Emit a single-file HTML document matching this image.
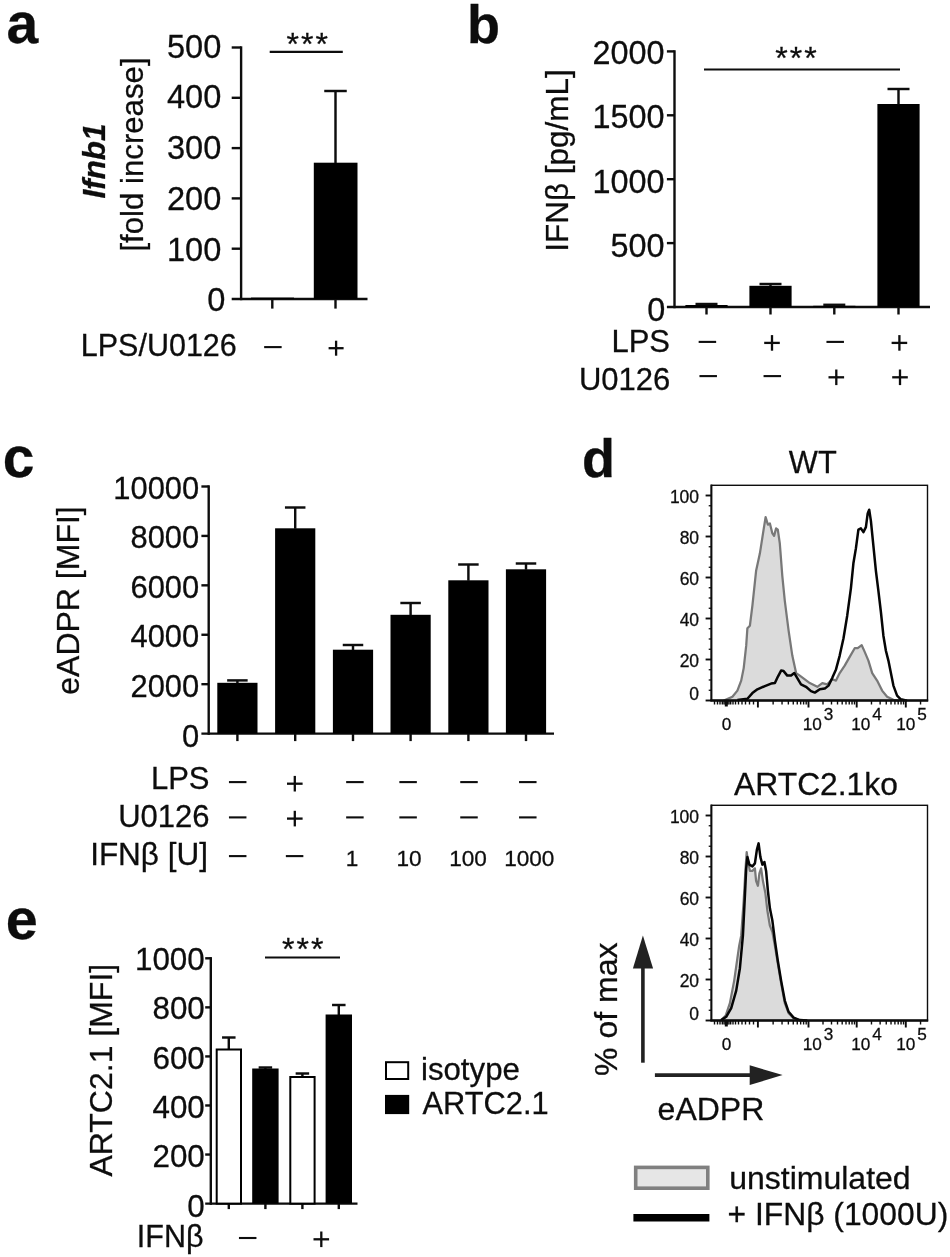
<!DOCTYPE html>
<html lang="en">
<head>
<meta charset="utf-8">
<title>Figure</title>
<style>
html,body{margin:0;padding:0;background:#fff;}
body{width:950px;height:1257px;overflow:hidden;}
svg{display:block;will-change:transform;filter:grayscale(1);}
svg text{font-family:"Liberation Sans",sans-serif;fill:#0d0d0d;stroke:#0d0d0d;stroke-width:0.28px;}
</style>
</head>
<body>
<svg width="950" height="1257" viewBox="0 0 950 1257">
<rect x="0" y="0" width="950" height="1257" fill="#ffffff"/>
<!-- panel a -->
<text x="6.5" y="42.6" font-size="57" font-weight="bold" fill="#222" stroke="#222">a</text>
<line x1="241.10" y1="46.30" x2="241.10" y2="300.20" stroke="#0d0d0d" stroke-width="2.4"/>
<line x1="231.70" y1="299.00" x2="367.50" y2="299.00" stroke="#0d0d0d" stroke-width="2.4"/>
<line x1="231.70" y1="47.50" x2="241.10" y2="47.50" stroke="#0d0d0d" stroke-width="2.4"/>
<text x="221.3" y="57.8" font-size="32.6" text-anchor="end">500</text>
<line x1="231.70" y1="97.80" x2="241.10" y2="97.80" stroke="#0d0d0d" stroke-width="2.4"/>
<text x="221.3" y="108.48" font-size="32.6" text-anchor="end">400</text>
<line x1="231.70" y1="148.10" x2="241.10" y2="148.10" stroke="#0d0d0d" stroke-width="2.4"/>
<text x="221.3" y="159.16" font-size="32.6" text-anchor="end">300</text>
<line x1="231.70" y1="198.40" x2="241.10" y2="198.40" stroke="#0d0d0d" stroke-width="2.4"/>
<text x="221.3" y="209.84" font-size="32.6" text-anchor="end">200</text>
<line x1="231.70" y1="248.70" x2="241.10" y2="248.70" stroke="#0d0d0d" stroke-width="2.4"/>
<text x="221.3" y="260.52" font-size="32.6" text-anchor="end">100</text>
<text x="225.3" y="311.2" font-size="32.6" text-anchor="end">0</text>
<line x1="272.30" y1="299.00" x2="272.30" y2="308.60" stroke="#0d0d0d" stroke-width="2.4"/>
<line x1="335.50" y1="299.00" x2="335.50" y2="308.60" stroke="#0d0d0d" stroke-width="2.4"/>
<rect x="313.80" y="162.70" width="43.70" height="136.30" fill="#000"/>
<rect x="251.00" y="297.60" width="43.00" height="1.40" fill="#000"/>
<line x1="335.50" y1="91.00" x2="335.50" y2="163.00" stroke="#0d0d0d" stroke-width="2.45"/>
<line x1="324.25" y1="91.00" x2="346.75" y2="91.00" stroke="#0d0d0d" stroke-width="2.45"/>
<line x1="269.70" y1="51.80" x2="342.80" y2="51.80" stroke="#0d0d0d" stroke-width="2.2"/>
<text x="308.2" y="55.3" font-size="32" text-anchor="middle" letter-spacing="2">***</text>
<text x="236.8" y="355.8" font-size="30.5" text-anchor="end">LPS/U0126</text>
<line x1="264.15" y1="347.10" x2="281.65" y2="347.10" stroke="#0d0d0d" stroke-width="2.1"/>
<line x1="328.60" y1="348.20" x2="343.60" y2="348.20" stroke="#0d0d0d" stroke-width="2.3"/>
<line x1="336.10" y1="340.70" x2="336.10" y2="355.70" stroke="#0d0d0d" stroke-width="2.3"/>
<text x="104.6" y="161" font-size="31.4" text-anchor="middle" font-weight="bold" font-style="italic" transform="rotate(-90 104.6 161)">Ifnb1</text>
<text x="142.5" y="154.5" font-size="31.2" text-anchor="middle" transform="rotate(-90 142.5 154.5)">[fold increase]</text>
<!-- panel b -->
<text x="467" y="42.5" font-size="54" font-weight="bold" fill="#222" stroke="#222">b</text>
<line x1="674.50" y1="50.20" x2="674.50" y2="308.20" stroke="#0d0d0d" stroke-width="2.4"/>
<line x1="666.90" y1="307.00" x2="930.00" y2="307.00" stroke="#0d0d0d" stroke-width="2.4"/>
<line x1="666.90" y1="51.40" x2="674.50" y2="51.40" stroke="#0d0d0d" stroke-width="2.4"/>
<text x="664.5" y="63.8" font-size="32.4" text-anchor="end">2000</text>
<line x1="666.90" y1="115.30" x2="674.50" y2="115.30" stroke="#0d0d0d" stroke-width="2.4"/>
<text x="664.5" y="128.15" font-size="32.4" text-anchor="end">1500</text>
<line x1="666.90" y1="179.20" x2="674.50" y2="179.20" stroke="#0d0d0d" stroke-width="2.4"/>
<text x="664.5" y="192.5" font-size="32.4" text-anchor="end">1000</text>
<line x1="666.90" y1="243.10" x2="674.50" y2="243.10" stroke="#0d0d0d" stroke-width="2.4"/>
<text x="664.5" y="256.85" font-size="32.4" text-anchor="end">500</text>
<text x="665.2" y="321.2" font-size="32.4" text-anchor="end">0</text>
<line x1="706.50" y1="307.00" x2="706.50" y2="314.50" stroke="#0d0d0d" stroke-width="2.4"/>
<line x1="770.50" y1="307.00" x2="770.50" y2="314.50" stroke="#0d0d0d" stroke-width="2.4"/>
<line x1="834.30" y1="307.00" x2="834.30" y2="314.50" stroke="#0d0d0d" stroke-width="2.4"/>
<line x1="898.50" y1="307.00" x2="898.50" y2="314.50" stroke="#0d0d0d" stroke-width="2.4"/>
<rect x="685.40" y="305.00" width="42.20" height="2.00" fill="#000"/>
<line x1="706.50" y1="304.00" x2="706.50" y2="305.50" stroke="#0d0d0d" stroke-width="2.45"/>
<line x1="695.50" y1="304.00" x2="717.50" y2="304.00" stroke="#0d0d0d" stroke-width="2.45"/>
<rect x="749.40" y="285.80" width="42.20" height="21.20" fill="#000"/>
<line x1="770.50" y1="284.00" x2="770.50" y2="286.30" stroke="#0d0d0d" stroke-width="2.45"/>
<line x1="759.50" y1="284.00" x2="781.50" y2="284.00" stroke="#0d0d0d" stroke-width="2.45"/>
<rect x="813.20" y="305.80" width="42.20" height="1.20" fill="#000"/>
<line x1="834.30" y1="304.80" x2="834.30" y2="306.30" stroke="#0d0d0d" stroke-width="2.45"/>
<line x1="823.30" y1="304.80" x2="845.30" y2="304.80" stroke="#0d0d0d" stroke-width="2.45"/>
<rect x="877.40" y="104.00" width="42.20" height="203.00" fill="#000"/>
<line x1="898.50" y1="89.00" x2="898.50" y2="104.50" stroke="#0d0d0d" stroke-width="2.45"/>
<line x1="887.50" y1="89.00" x2="909.50" y2="89.00" stroke="#0d0d0d" stroke-width="2.45"/>
<line x1="704.00" y1="69.50" x2="900.00" y2="69.50" stroke="#0d0d0d" stroke-width="2.2"/>
<text x="797.0" y="68.7" font-size="32" text-anchor="middle" letter-spacing="2">***</text>
<text x="670" y="352.2" font-size="31" text-anchor="end">LPS</text>
<text x="670.3" y="389.5" font-size="31" text-anchor="end">U0126</text>
<line x1="698.65" y1="341.90" x2="716.15" y2="341.90" stroke="#0d0d0d" stroke-width="2.1"/>
<line x1="764.20" y1="342.90" x2="779.80" y2="342.90" stroke="#0d0d0d" stroke-width="2.3"/>
<line x1="772.00" y1="335.10" x2="772.00" y2="350.70" stroke="#0d0d0d" stroke-width="2.3"/>
<line x1="826.45" y1="341.90" x2="843.95" y2="341.90" stroke="#0d0d0d" stroke-width="2.1"/>
<line x1="891.60" y1="342.90" x2="907.20" y2="342.90" stroke="#0d0d0d" stroke-width="2.3"/>
<line x1="899.40" y1="335.10" x2="899.40" y2="350.70" stroke="#0d0d0d" stroke-width="2.3"/>
<line x1="699.45" y1="376.10" x2="716.95" y2="376.10" stroke="#0d0d0d" stroke-width="2.1"/>
<line x1="763.55" y1="376.10" x2="781.05" y2="376.10" stroke="#0d0d0d" stroke-width="2.1"/>
<line x1="828.50" y1="377.30" x2="844.10" y2="377.30" stroke="#0d0d0d" stroke-width="2.3"/>
<line x1="836.30" y1="369.50" x2="836.30" y2="385.10" stroke="#0d0d0d" stroke-width="2.3"/>
<line x1="892.20" y1="377.30" x2="907.80" y2="377.30" stroke="#0d0d0d" stroke-width="2.3"/>
<line x1="900.00" y1="369.50" x2="900.00" y2="385.10" stroke="#0d0d0d" stroke-width="2.3"/>
<text x="568" y="160.5" font-size="31.5" text-anchor="middle" transform="rotate(-90 568 160.5)">IFNβ [pg/mL]</text>
<!-- panel c -->
<text x="2.8" y="477" font-size="57" font-weight="bold" fill="#222" stroke="#222">c</text>
<line x1="208.70" y1="485.30" x2="208.70" y2="734.80" stroke="#0d0d0d" stroke-width="2.4"/>
<line x1="201.40" y1="733.60" x2="554.00" y2="733.60" stroke="#0d0d0d" stroke-width="2.4"/>
<line x1="201.40" y1="486.50" x2="208.70" y2="486.50" stroke="#0d0d0d" stroke-width="2.4"/>
<text x="199.2" y="498.8" font-size="30.9" text-anchor="end">10000</text>
<line x1="201.40" y1="535.92" x2="208.70" y2="535.92" stroke="#0d0d0d" stroke-width="2.4"/>
<text x="199.2" y="548.34" font-size="30.9" text-anchor="end">8000</text>
<line x1="201.40" y1="585.34" x2="208.70" y2="585.34" stroke="#0d0d0d" stroke-width="2.4"/>
<text x="199.2" y="597.88" font-size="30.9" text-anchor="end">6000</text>
<line x1="201.40" y1="634.76" x2="208.70" y2="634.76" stroke="#0d0d0d" stroke-width="2.4"/>
<text x="199.2" y="647.42" font-size="30.9" text-anchor="end">4000</text>
<line x1="201.40" y1="684.18" x2="208.70" y2="684.18" stroke="#0d0d0d" stroke-width="2.4"/>
<text x="199.2" y="696.96" font-size="30.9" text-anchor="end">2000</text>
<text x="199.2" y="746.5" font-size="30.9" text-anchor="end">0</text>
<line x1="237.40" y1="733.60" x2="237.40" y2="741.10" stroke="#0d0d0d" stroke-width="2.4"/>
<line x1="295.20" y1="733.60" x2="295.20" y2="741.10" stroke="#0d0d0d" stroke-width="2.4"/>
<line x1="353.00" y1="733.60" x2="353.00" y2="741.10" stroke="#0d0d0d" stroke-width="2.4"/>
<line x1="410.60" y1="733.60" x2="410.60" y2="741.10" stroke="#0d0d0d" stroke-width="2.4"/>
<line x1="468.40" y1="733.60" x2="468.40" y2="741.10" stroke="#0d0d0d" stroke-width="2.4"/>
<line x1="526.00" y1="733.60" x2="526.00" y2="741.10" stroke="#0d0d0d" stroke-width="2.4"/>
<rect x="217.30" y="682.80" width="40.20" height="50.80" fill="#000"/>
<line x1="237.40" y1="680.40" x2="237.40" y2="683.30" stroke="#0d0d0d" stroke-width="2.45"/>
<line x1="227.15" y1="680.40" x2="247.65" y2="680.40" stroke="#0d0d0d" stroke-width="2.45"/>
<rect x="275.10" y="528.30" width="40.20" height="205.30" fill="#000"/>
<line x1="295.20" y1="507.50" x2="295.20" y2="528.80" stroke="#0d0d0d" stroke-width="2.45"/>
<line x1="284.95" y1="507.50" x2="305.45" y2="507.50" stroke="#0d0d0d" stroke-width="2.45"/>
<rect x="332.90" y="649.70" width="40.20" height="83.90" fill="#000"/>
<line x1="353.00" y1="645.00" x2="353.00" y2="650.20" stroke="#0d0d0d" stroke-width="2.45"/>
<line x1="342.75" y1="645.00" x2="363.25" y2="645.00" stroke="#0d0d0d" stroke-width="2.45"/>
<rect x="390.50" y="614.80" width="40.20" height="118.80" fill="#000"/>
<line x1="410.60" y1="603.00" x2="410.60" y2="615.30" stroke="#0d0d0d" stroke-width="2.45"/>
<line x1="400.35" y1="603.00" x2="420.85" y2="603.00" stroke="#0d0d0d" stroke-width="2.45"/>
<rect x="448.30" y="580.30" width="40.20" height="153.30" fill="#000"/>
<line x1="468.40" y1="564.50" x2="468.40" y2="580.80" stroke="#0d0d0d" stroke-width="2.45"/>
<line x1="458.15" y1="564.50" x2="478.65" y2="564.50" stroke="#0d0d0d" stroke-width="2.45"/>
<rect x="505.90" y="569.30" width="40.20" height="164.30" fill="#000"/>
<line x1="526.00" y1="563.50" x2="526.00" y2="569.80" stroke="#0d0d0d" stroke-width="2.45"/>
<line x1="515.75" y1="563.50" x2="536.25" y2="563.50" stroke="#0d0d0d" stroke-width="2.45"/>
<text x="209.5" y="788.7" font-size="31" text-anchor="end">LPS</text>
<text x="209.5" y="827.4" font-size="31" text-anchor="end">U0126</text>
<text x="208" y="864.5" font-size="31.5" text-anchor="end">IFNβ [U]</text>
<line x1="228.95" y1="782.10" x2="246.45" y2="782.10" stroke="#0d0d0d" stroke-width="2.1"/>
<line x1="228.95" y1="817.40" x2="246.45" y2="817.40" stroke="#0d0d0d" stroke-width="2.1"/>
<line x1="287.00" y1="783.70" x2="302.60" y2="783.70" stroke="#0d0d0d" stroke-width="2.3"/>
<line x1="294.80" y1="775.90" x2="294.80" y2="791.50" stroke="#0d0d0d" stroke-width="2.3"/>
<line x1="287.00" y1="818.60" x2="302.60" y2="818.60" stroke="#0d0d0d" stroke-width="2.3"/>
<line x1="294.80" y1="810.80" x2="294.80" y2="826.40" stroke="#0d0d0d" stroke-width="2.3"/>
<line x1="346.15" y1="782.10" x2="363.65" y2="782.10" stroke="#0d0d0d" stroke-width="2.1"/>
<line x1="346.15" y1="817.40" x2="363.65" y2="817.40" stroke="#0d0d0d" stroke-width="2.1"/>
<line x1="399.35" y1="782.10" x2="416.85" y2="782.10" stroke="#0d0d0d" stroke-width="2.1"/>
<line x1="399.35" y1="817.40" x2="416.85" y2="817.40" stroke="#0d0d0d" stroke-width="2.1"/>
<line x1="460.25" y1="782.10" x2="477.75" y2="782.10" stroke="#0d0d0d" stroke-width="2.1"/>
<line x1="460.25" y1="817.40" x2="477.75" y2="817.40" stroke="#0d0d0d" stroke-width="2.1"/>
<line x1="519.05" y1="782.10" x2="536.55" y2="782.10" stroke="#0d0d0d" stroke-width="2.1"/>
<line x1="519.05" y1="817.40" x2="536.55" y2="817.40" stroke="#0d0d0d" stroke-width="2.1"/>
<line x1="228.95" y1="856.10" x2="246.45" y2="856.10" stroke="#0d0d0d" stroke-width="2.1"/>
<line x1="285.85" y1="856.10" x2="303.35" y2="856.10" stroke="#0d0d0d" stroke-width="2.1"/>
<text x="352" y="866" font-size="22.6" text-anchor="middle">1</text>
<text x="409" y="866" font-size="22.6" text-anchor="middle">10</text>
<text x="468.1" y="866" font-size="22.6" text-anchor="middle">100</text>
<text x="529.3" y="866" font-size="22.6" text-anchor="middle">1000</text>
<text x="79" y="600.5" font-size="32" text-anchor="middle" transform="rotate(-90 79 600.5)">eADPR [MFI]</text>
<!-- panel d -->
<text x="582" y="476.5" font-size="54" font-weight="bold" fill="#222" stroke="#222">d</text>
<polygon points="723.7,700.6 725.0,700.1 732.4,696.8 737.4,690.6 741.2,680.6 743.7,668.1 746.2,645.7 747.4,628.2 749.9,625.7 752.4,605.7 756.1,570.8 759.9,553.3 763.6,529.6 765.6,517.2 767.9,524.7 769.9,523.4 772.4,533.4 774.1,535.9 776.1,528.4 777.8,529.6 779.8,543.4 782.3,575.8 784.8,600.8 788.6,630.7 792.3,655.6 796.1,673.1 799.8,675.6 804.8,679.3 809.8,683.1 817.3,686.8 822.3,683.1 827.2,684.3 832.2,679.3 836.0,680.6 839.7,673.1 844.7,665.6 849.7,656.9 854.7,648.2 857.7,648.2 861.7,645.2 864.7,651.9 868.4,660.6 872.2,673.1 877.1,680.6 882.1,690.6 887.1,696.8 893.4,699.8 899.6,700.6" fill="#dbdbdb" stroke="none"/>
<polyline points="723.7,700.6 725.0,700.1 732.4,696.8 737.4,690.6 741.2,680.6 743.7,668.1 746.2,645.7 747.4,628.2 749.9,625.7 752.4,605.7 756.1,570.8 759.9,553.3 763.6,529.6 765.6,517.2 767.9,524.7 769.9,523.4 772.4,533.4 774.1,535.9 776.1,528.4 777.8,529.6 779.8,543.4 782.3,575.8 784.8,600.8 788.6,630.7 792.3,655.6 796.1,673.1 799.8,675.6 804.8,679.3 809.8,683.1 817.3,686.8 822.3,683.1 827.2,684.3 832.2,679.3 836.0,680.6 839.7,673.1 844.7,665.6 849.7,656.9 854.7,648.2 857.7,648.2 861.7,645.2 864.7,651.9 868.4,660.6 872.2,673.1 877.1,680.6 882.1,690.6 887.1,696.8 893.4,699.8 899.6,700.6" fill="none" stroke="#787878" stroke-width="2.25" stroke-linejoin="round"/>
<polyline points="737.4,700.1 747.4,698.8 752.4,693.1 757.4,689.3 764.9,686.1 771.1,683.6 774.9,683.1 777.8,676.8 781.1,670.6 783.6,671.1 787.3,675.6 791.1,675.6 794.3,673.1 797.3,678.1 801.0,684.3 806.0,686.8 811.0,691.1 814.8,692.6 819.8,689.3 824.8,688.6 828.5,685.6 832.2,678.1 836.0,669.4 839.7,655.6 843.5,638.2 847.2,615.7 850.9,588.3 853.4,563.3 855.9,548.4 858.4,529.6 860.9,528.4 863.4,532.1 865.9,527.1 867.7,513.4 869.2,509.7 870.9,520.9 873.4,545.9 875.9,570.8 878.4,590.8 880.9,612.0 883.4,635.7 885.9,650.7 888.4,660.6 890.9,673.1 893.4,685.6 897.1,695.6 900.8,699.3 907.1,700.6" fill="none" stroke="#050505" stroke-width="2.5" stroke-linejoin="round"/>
<rect x="711.4" y="485.3" width="216.10000000000002" height="215.2" fill="none" stroke="#0d0d0d" stroke-width="1.4"/>
<line x1="710.40" y1="700.50" x2="928.20" y2="700.50" stroke="#0d0d0d" stroke-width="2.3"/>
<line x1="711.40" y1="484.60" x2="711.40" y2="700.50" stroke="#0d0d0d" stroke-width="1.9"/>
<line x1="705.60" y1="700.50" x2="711.40" y2="700.50" stroke="#0d0d0d" stroke-width="1.9"/>
<line x1="708.70" y1="690.25" x2="711.40" y2="690.25" stroke="#0d0d0d" stroke-width="1.3"/>
<line x1="708.70" y1="680.00" x2="711.40" y2="680.00" stroke="#0d0d0d" stroke-width="1.3"/>
<line x1="708.70" y1="669.75" x2="711.40" y2="669.75" stroke="#0d0d0d" stroke-width="1.3"/>
<line x1="705.60" y1="659.50" x2="711.40" y2="659.50" stroke="#0d0d0d" stroke-width="1.9"/>
<line x1="708.70" y1="649.25" x2="711.40" y2="649.25" stroke="#0d0d0d" stroke-width="1.3"/>
<line x1="708.70" y1="639.00" x2="711.40" y2="639.00" stroke="#0d0d0d" stroke-width="1.3"/>
<line x1="708.70" y1="628.75" x2="711.40" y2="628.75" stroke="#0d0d0d" stroke-width="1.3"/>
<line x1="705.60" y1="618.50" x2="711.40" y2="618.50" stroke="#0d0d0d" stroke-width="1.9"/>
<line x1="708.70" y1="608.25" x2="711.40" y2="608.25" stroke="#0d0d0d" stroke-width="1.3"/>
<line x1="708.70" y1="598.00" x2="711.40" y2="598.00" stroke="#0d0d0d" stroke-width="1.3"/>
<line x1="708.70" y1="587.75" x2="711.40" y2="587.75" stroke="#0d0d0d" stroke-width="1.3"/>
<line x1="705.60" y1="577.50" x2="711.40" y2="577.50" stroke="#0d0d0d" stroke-width="1.9"/>
<line x1="708.70" y1="567.25" x2="711.40" y2="567.25" stroke="#0d0d0d" stroke-width="1.3"/>
<line x1="708.70" y1="557.00" x2="711.40" y2="557.00" stroke="#0d0d0d" stroke-width="1.3"/>
<line x1="708.70" y1="546.75" x2="711.40" y2="546.75" stroke="#0d0d0d" stroke-width="1.3"/>
<line x1="705.60" y1="536.50" x2="711.40" y2="536.50" stroke="#0d0d0d" stroke-width="1.9"/>
<line x1="708.70" y1="526.25" x2="711.40" y2="526.25" stroke="#0d0d0d" stroke-width="1.3"/>
<line x1="708.70" y1="516.00" x2="711.40" y2="516.00" stroke="#0d0d0d" stroke-width="1.3"/>
<line x1="708.70" y1="505.75" x2="711.40" y2="505.75" stroke="#0d0d0d" stroke-width="1.3"/>
<line x1="705.60" y1="495.50" x2="711.40" y2="495.50" stroke="#0d0d0d" stroke-width="1.9"/>
<text x="699.1" y="700.2" font-size="17.5" text-anchor="end">0</text>
<text x="699.1" y="666.8" font-size="17.5" text-anchor="end">20</text>
<text x="699.1" y="625.8" font-size="17.5" text-anchor="end">40</text>
<text x="699.1" y="584.8" font-size="17.5" text-anchor="end">60</text>
<text x="699.1" y="543.8" font-size="17.5" text-anchor="end">80</text>
<text x="699.1" y="502.8" font-size="17.5" text-anchor="end">100</text>
<line x1="757.90" y1="700.50" x2="757.90" y2="707.50" stroke="#0d0d0d" stroke-width="1.9"/>
<line x1="808.50" y1="700.50" x2="808.50" y2="707.50" stroke="#0d0d0d" stroke-width="1.9"/>
<line x1="856.70" y1="700.50" x2="856.70" y2="707.50" stroke="#0d0d0d" stroke-width="1.9"/>
<line x1="905.80" y1="700.50" x2="905.80" y2="707.50" stroke="#0d0d0d" stroke-width="1.9"/>
<line x1="773.13" y1="700.50" x2="773.13" y2="704.50" stroke="#0d0d0d" stroke-width="1.4"/>
<line x1="782.04" y1="700.50" x2="782.04" y2="704.50" stroke="#0d0d0d" stroke-width="1.4"/>
<line x1="788.36" y1="700.50" x2="788.36" y2="704.50" stroke="#0d0d0d" stroke-width="1.4"/>
<line x1="793.27" y1="700.50" x2="793.27" y2="704.50" stroke="#0d0d0d" stroke-width="1.4"/>
<line x1="797.27" y1="700.50" x2="797.27" y2="704.50" stroke="#0d0d0d" stroke-width="1.4"/>
<line x1="800.66" y1="700.50" x2="800.66" y2="704.50" stroke="#0d0d0d" stroke-width="1.4"/>
<line x1="803.60" y1="700.50" x2="803.60" y2="704.50" stroke="#0d0d0d" stroke-width="1.4"/>
<line x1="806.18" y1="700.50" x2="806.18" y2="704.50" stroke="#0d0d0d" stroke-width="1.4"/>
<line x1="823.01" y1="700.50" x2="823.01" y2="704.50" stroke="#0d0d0d" stroke-width="1.4"/>
<line x1="831.50" y1="700.50" x2="831.50" y2="704.50" stroke="#0d0d0d" stroke-width="1.4"/>
<line x1="837.52" y1="700.50" x2="837.52" y2="704.50" stroke="#0d0d0d" stroke-width="1.4"/>
<line x1="842.19" y1="700.50" x2="842.19" y2="704.50" stroke="#0d0d0d" stroke-width="1.4"/>
<line x1="846.01" y1="700.50" x2="846.01" y2="704.50" stroke="#0d0d0d" stroke-width="1.4"/>
<line x1="849.23" y1="700.50" x2="849.23" y2="704.50" stroke="#0d0d0d" stroke-width="1.4"/>
<line x1="852.03" y1="700.50" x2="852.03" y2="704.50" stroke="#0d0d0d" stroke-width="1.4"/>
<line x1="854.49" y1="700.50" x2="854.49" y2="704.50" stroke="#0d0d0d" stroke-width="1.4"/>
<line x1="871.48" y1="700.50" x2="871.48" y2="704.50" stroke="#0d0d0d" stroke-width="1.4"/>
<line x1="880.13" y1="700.50" x2="880.13" y2="704.50" stroke="#0d0d0d" stroke-width="1.4"/>
<line x1="886.26" y1="700.50" x2="886.26" y2="704.50" stroke="#0d0d0d" stroke-width="1.4"/>
<line x1="891.02" y1="700.50" x2="891.02" y2="704.50" stroke="#0d0d0d" stroke-width="1.4"/>
<line x1="894.91" y1="700.50" x2="894.91" y2="704.50" stroke="#0d0d0d" stroke-width="1.4"/>
<line x1="898.19" y1="700.50" x2="898.19" y2="704.50" stroke="#0d0d0d" stroke-width="1.4"/>
<line x1="901.04" y1="700.50" x2="901.04" y2="704.50" stroke="#0d0d0d" stroke-width="1.4"/>
<line x1="903.55" y1="700.50" x2="903.55" y2="704.50" stroke="#0d0d0d" stroke-width="1.4"/>
<line x1="920.55" y1="700.50" x2="920.55" y2="704.50" stroke="#0d0d0d" stroke-width="1.4"/>
<line x1="714.50" y1="700.50" x2="714.50" y2="704.50" stroke="#0d0d0d" stroke-width="1.4"/>
<line x1="717.50" y1="700.50" x2="717.50" y2="704.50" stroke="#0d0d0d" stroke-width="1.4"/>
<line x1="720.00" y1="700.50" x2="720.00" y2="704.50" stroke="#0d0d0d" stroke-width="1.4"/>
<line x1="722.30" y1="700.50" x2="722.30" y2="704.50" stroke="#0d0d0d" stroke-width="1.4"/>
<line x1="724.00" y1="700.50" x2="724.00" y2="704.50" stroke="#0d0d0d" stroke-width="1.4"/>
<line x1="725.30" y1="700.50" x2="725.30" y2="704.50" stroke="#0d0d0d" stroke-width="1.4"/>
<line x1="726.50" y1="700.50" x2="726.50" y2="704.50" stroke="#0d0d0d" stroke-width="1.4"/>
<line x1="727.70" y1="700.50" x2="727.70" y2="704.50" stroke="#0d0d0d" stroke-width="1.4"/>
<line x1="729.00" y1="700.50" x2="729.00" y2="704.50" stroke="#0d0d0d" stroke-width="1.4"/>
<line x1="730.70" y1="700.50" x2="730.70" y2="704.50" stroke="#0d0d0d" stroke-width="1.4"/>
<line x1="733.00" y1="700.50" x2="733.00" y2="704.50" stroke="#0d0d0d" stroke-width="1.4"/>
<line x1="735.50" y1="700.50" x2="735.50" y2="704.50" stroke="#0d0d0d" stroke-width="1.4"/>
<line x1="738.50" y1="700.50" x2="738.50" y2="704.50" stroke="#0d0d0d" stroke-width="1.4"/>
<line x1="742.00" y1="700.50" x2="742.00" y2="704.50" stroke="#0d0d0d" stroke-width="1.4"/>
<line x1="745.50" y1="700.50" x2="745.50" y2="704.50" stroke="#0d0d0d" stroke-width="1.4"/>
<line x1="749.50" y1="700.50" x2="749.50" y2="704.50" stroke="#0d0d0d" stroke-width="1.4"/>
<line x1="753.50" y1="700.50" x2="753.50" y2="704.50" stroke="#0d0d0d" stroke-width="1.4"/>
<line x1="726.30" y1="700.50" x2="726.30" y2="706.50" stroke="#0d0d0d" stroke-width="3"/>
<text x="726.5" y="730.2" font-size="17.2" text-anchor="middle">0</text>
<text x="802.7" y="730.2" font-size="17.2">10</text>
<text x="823.7" y="720.2" font-size="17.2">3</text>
<text x="851.3" y="730.2" font-size="17.2">10</text>
<text x="872.3" y="720.2" font-size="17.2">4</text>
<text x="896.3" y="730.2" font-size="17.2">10</text>
<text x="917.3" y="720.2" font-size="17.2">5</text>
<text x="812.8" y="473.2" font-size="30.8" text-anchor="middle">WT</text>
<polygon points="721.2,1020.6 721.2,1020.1 725.7,1015.6 729.9,1003.1 734.2,980.6 737.4,958.2 739.2,945.7 741.2,935.7 743.7,900.8 745.4,870.9 746.7,852.1 747.9,860.9 749.9,870.9 752.4,870.9 754.9,868.4 756.1,880.8 757.9,885.8 759.4,873.3 761.1,868.4 762.9,880.8 765.4,893.3 767.4,910.8 769.9,925.7 772.4,932.0 774.9,945.7 777.8,963.2 781.1,983.1 784.8,1003.1 788.6,1013.1 793.6,1018.1 799.8,1020.3 801.0,1020.6" fill="#dbdbdb" stroke="none"/>
<polyline points="721.2,1020.6 721.2,1020.1 725.7,1015.6 729.9,1003.1 734.2,980.6 737.4,958.2 739.2,945.7 741.2,935.7 743.7,900.8 745.4,870.9 746.7,852.1 747.9,860.9 749.9,870.9 752.4,870.9 754.9,868.4 756.1,880.8 757.9,885.8 759.4,873.3 761.1,868.4 762.9,880.8 765.4,893.3 767.4,910.8 769.9,925.7 772.4,932.0 774.9,945.7 777.8,963.2 781.1,983.1 784.8,1003.1 788.6,1013.1 793.6,1018.1 799.8,1020.3 801.0,1020.6" fill="none" stroke="#787878" stroke-width="2.25" stroke-linejoin="round"/>
<polyline points="721.2,1020.1 726.2,1016.8 731.2,1008.1 736.2,990.6 739.9,968.2 742.9,935.7 744.9,895.8 746.2,868.4 747.4,857.1 749.4,864.6 752.4,866.4 754.9,863.4 756.9,849.6 758.6,843.4 760.4,857.1 762.4,864.6 764.4,862.1 766.1,870.9 767.9,890.8 769.9,908.3 772.4,920.8 774.9,940.7 777.8,960.7 781.1,980.6 784.8,1000.6 788.6,1011.8 793.6,1017.6 799.8,1020.1 807.3,1020.6" fill="none" stroke="#050505" stroke-width="2.5" stroke-linejoin="round"/>
<rect x="711.4" y="805.3" width="216.10000000000002" height="215.20000000000005" fill="none" stroke="#0d0d0d" stroke-width="1.4"/>
<line x1="710.40" y1="1020.50" x2="928.20" y2="1020.50" stroke="#0d0d0d" stroke-width="2.3"/>
<line x1="711.40" y1="804.60" x2="711.40" y2="1020.50" stroke="#0d0d0d" stroke-width="1.9"/>
<line x1="705.60" y1="1020.50" x2="711.40" y2="1020.50" stroke="#0d0d0d" stroke-width="1.9"/>
<line x1="708.70" y1="1010.25" x2="711.40" y2="1010.25" stroke="#0d0d0d" stroke-width="1.3"/>
<line x1="708.70" y1="1000.00" x2="711.40" y2="1000.00" stroke="#0d0d0d" stroke-width="1.3"/>
<line x1="708.70" y1="989.75" x2="711.40" y2="989.75" stroke="#0d0d0d" stroke-width="1.3"/>
<line x1="705.60" y1="979.50" x2="711.40" y2="979.50" stroke="#0d0d0d" stroke-width="1.9"/>
<line x1="708.70" y1="969.25" x2="711.40" y2="969.25" stroke="#0d0d0d" stroke-width="1.3"/>
<line x1="708.70" y1="959.00" x2="711.40" y2="959.00" stroke="#0d0d0d" stroke-width="1.3"/>
<line x1="708.70" y1="948.75" x2="711.40" y2="948.75" stroke="#0d0d0d" stroke-width="1.3"/>
<line x1="705.60" y1="938.50" x2="711.40" y2="938.50" stroke="#0d0d0d" stroke-width="1.9"/>
<line x1="708.70" y1="928.25" x2="711.40" y2="928.25" stroke="#0d0d0d" stroke-width="1.3"/>
<line x1="708.70" y1="918.00" x2="711.40" y2="918.00" stroke="#0d0d0d" stroke-width="1.3"/>
<line x1="708.70" y1="907.75" x2="711.40" y2="907.75" stroke="#0d0d0d" stroke-width="1.3"/>
<line x1="705.60" y1="897.50" x2="711.40" y2="897.50" stroke="#0d0d0d" stroke-width="1.9"/>
<line x1="708.70" y1="887.25" x2="711.40" y2="887.25" stroke="#0d0d0d" stroke-width="1.3"/>
<line x1="708.70" y1="877.00" x2="711.40" y2="877.00" stroke="#0d0d0d" stroke-width="1.3"/>
<line x1="708.70" y1="866.75" x2="711.40" y2="866.75" stroke="#0d0d0d" stroke-width="1.3"/>
<line x1="705.60" y1="856.50" x2="711.40" y2="856.50" stroke="#0d0d0d" stroke-width="1.9"/>
<line x1="708.70" y1="846.25" x2="711.40" y2="846.25" stroke="#0d0d0d" stroke-width="1.3"/>
<line x1="708.70" y1="836.00" x2="711.40" y2="836.00" stroke="#0d0d0d" stroke-width="1.3"/>
<line x1="708.70" y1="825.75" x2="711.40" y2="825.75" stroke="#0d0d0d" stroke-width="1.3"/>
<line x1="705.60" y1="815.50" x2="711.40" y2="815.50" stroke="#0d0d0d" stroke-width="1.9"/>
<text x="699.1" y="1020.2" font-size="17.5" text-anchor="end">0</text>
<text x="699.1" y="986.8" font-size="17.5" text-anchor="end">20</text>
<text x="699.1" y="945.8" font-size="17.5" text-anchor="end">40</text>
<text x="699.1" y="904.8" font-size="17.5" text-anchor="end">60</text>
<text x="699.1" y="863.8" font-size="17.5" text-anchor="end">80</text>
<text x="699.1" y="822.8" font-size="17.5" text-anchor="end">100</text>
<line x1="757.90" y1="1020.50" x2="757.90" y2="1027.50" stroke="#0d0d0d" stroke-width="1.9"/>
<line x1="808.50" y1="1020.50" x2="808.50" y2="1027.50" stroke="#0d0d0d" stroke-width="1.9"/>
<line x1="856.70" y1="1020.50" x2="856.70" y2="1027.50" stroke="#0d0d0d" stroke-width="1.9"/>
<line x1="905.80" y1="1020.50" x2="905.80" y2="1027.50" stroke="#0d0d0d" stroke-width="1.9"/>
<line x1="773.13" y1="1020.50" x2="773.13" y2="1024.50" stroke="#0d0d0d" stroke-width="1.4"/>
<line x1="782.04" y1="1020.50" x2="782.04" y2="1024.50" stroke="#0d0d0d" stroke-width="1.4"/>
<line x1="788.36" y1="1020.50" x2="788.36" y2="1024.50" stroke="#0d0d0d" stroke-width="1.4"/>
<line x1="793.27" y1="1020.50" x2="793.27" y2="1024.50" stroke="#0d0d0d" stroke-width="1.4"/>
<line x1="797.27" y1="1020.50" x2="797.27" y2="1024.50" stroke="#0d0d0d" stroke-width="1.4"/>
<line x1="800.66" y1="1020.50" x2="800.66" y2="1024.50" stroke="#0d0d0d" stroke-width="1.4"/>
<line x1="803.60" y1="1020.50" x2="803.60" y2="1024.50" stroke="#0d0d0d" stroke-width="1.4"/>
<line x1="806.18" y1="1020.50" x2="806.18" y2="1024.50" stroke="#0d0d0d" stroke-width="1.4"/>
<line x1="823.01" y1="1020.50" x2="823.01" y2="1024.50" stroke="#0d0d0d" stroke-width="1.4"/>
<line x1="831.50" y1="1020.50" x2="831.50" y2="1024.50" stroke="#0d0d0d" stroke-width="1.4"/>
<line x1="837.52" y1="1020.50" x2="837.52" y2="1024.50" stroke="#0d0d0d" stroke-width="1.4"/>
<line x1="842.19" y1="1020.50" x2="842.19" y2="1024.50" stroke="#0d0d0d" stroke-width="1.4"/>
<line x1="846.01" y1="1020.50" x2="846.01" y2="1024.50" stroke="#0d0d0d" stroke-width="1.4"/>
<line x1="849.23" y1="1020.50" x2="849.23" y2="1024.50" stroke="#0d0d0d" stroke-width="1.4"/>
<line x1="852.03" y1="1020.50" x2="852.03" y2="1024.50" stroke="#0d0d0d" stroke-width="1.4"/>
<line x1="854.49" y1="1020.50" x2="854.49" y2="1024.50" stroke="#0d0d0d" stroke-width="1.4"/>
<line x1="871.48" y1="1020.50" x2="871.48" y2="1024.50" stroke="#0d0d0d" stroke-width="1.4"/>
<line x1="880.13" y1="1020.50" x2="880.13" y2="1024.50" stroke="#0d0d0d" stroke-width="1.4"/>
<line x1="886.26" y1="1020.50" x2="886.26" y2="1024.50" stroke="#0d0d0d" stroke-width="1.4"/>
<line x1="891.02" y1="1020.50" x2="891.02" y2="1024.50" stroke="#0d0d0d" stroke-width="1.4"/>
<line x1="894.91" y1="1020.50" x2="894.91" y2="1024.50" stroke="#0d0d0d" stroke-width="1.4"/>
<line x1="898.19" y1="1020.50" x2="898.19" y2="1024.50" stroke="#0d0d0d" stroke-width="1.4"/>
<line x1="901.04" y1="1020.50" x2="901.04" y2="1024.50" stroke="#0d0d0d" stroke-width="1.4"/>
<line x1="903.55" y1="1020.50" x2="903.55" y2="1024.50" stroke="#0d0d0d" stroke-width="1.4"/>
<line x1="920.55" y1="1020.50" x2="920.55" y2="1024.50" stroke="#0d0d0d" stroke-width="1.4"/>
<line x1="714.50" y1="1020.50" x2="714.50" y2="1024.50" stroke="#0d0d0d" stroke-width="1.4"/>
<line x1="717.50" y1="1020.50" x2="717.50" y2="1024.50" stroke="#0d0d0d" stroke-width="1.4"/>
<line x1="720.00" y1="1020.50" x2="720.00" y2="1024.50" stroke="#0d0d0d" stroke-width="1.4"/>
<line x1="722.30" y1="1020.50" x2="722.30" y2="1024.50" stroke="#0d0d0d" stroke-width="1.4"/>
<line x1="724.00" y1="1020.50" x2="724.00" y2="1024.50" stroke="#0d0d0d" stroke-width="1.4"/>
<line x1="725.30" y1="1020.50" x2="725.30" y2="1024.50" stroke="#0d0d0d" stroke-width="1.4"/>
<line x1="726.50" y1="1020.50" x2="726.50" y2="1024.50" stroke="#0d0d0d" stroke-width="1.4"/>
<line x1="727.70" y1="1020.50" x2="727.70" y2="1024.50" stroke="#0d0d0d" stroke-width="1.4"/>
<line x1="729.00" y1="1020.50" x2="729.00" y2="1024.50" stroke="#0d0d0d" stroke-width="1.4"/>
<line x1="730.70" y1="1020.50" x2="730.70" y2="1024.50" stroke="#0d0d0d" stroke-width="1.4"/>
<line x1="733.00" y1="1020.50" x2="733.00" y2="1024.50" stroke="#0d0d0d" stroke-width="1.4"/>
<line x1="735.50" y1="1020.50" x2="735.50" y2="1024.50" stroke="#0d0d0d" stroke-width="1.4"/>
<line x1="738.50" y1="1020.50" x2="738.50" y2="1024.50" stroke="#0d0d0d" stroke-width="1.4"/>
<line x1="742.00" y1="1020.50" x2="742.00" y2="1024.50" stroke="#0d0d0d" stroke-width="1.4"/>
<line x1="745.50" y1="1020.50" x2="745.50" y2="1024.50" stroke="#0d0d0d" stroke-width="1.4"/>
<line x1="749.50" y1="1020.50" x2="749.50" y2="1024.50" stroke="#0d0d0d" stroke-width="1.4"/>
<line x1="753.50" y1="1020.50" x2="753.50" y2="1024.50" stroke="#0d0d0d" stroke-width="1.4"/>
<line x1="726.30" y1="1020.50" x2="726.30" y2="1026.50" stroke="#0d0d0d" stroke-width="3"/>
<text x="726.5" y="1050.2" font-size="17.2" text-anchor="middle">0</text>
<text x="802.7" y="1050.2" font-size="17.2">10</text>
<text x="823.7" y="1040.2" font-size="17.2">3</text>
<text x="851.3" y="1050.2" font-size="17.2">10</text>
<text x="872.3" y="1040.2" font-size="17.2">4</text>
<text x="896.3" y="1050.2" font-size="17.2">10</text>
<text x="917.3" y="1040.2" font-size="17.2">5</text>
<text x="816" y="795.2" font-size="31.8" text-anchor="middle">ARTC2.1ko</text>
<line x1="642.90" y1="1062.70" x2="642.90" y2="967.00" stroke="#222" stroke-width="3.6"/>
<polygon points="642.9,935.4 632.9,968.6 653.1,968.6" fill="#222"/>
<line x1="654.90" y1="1075.10" x2="751.00" y2="1075.10" stroke="#222" stroke-width="3.6"/>
<polygon points="782.6,1075.1 749.7,1065.2 749.7,1085.1" fill="#222"/>
<text x="617" y="1009.2" font-size="32" text-anchor="middle" transform="rotate(-90 617 1009.2)">% of max</text>
<text x="657.6" y="1119.6" font-size="32">eADPR</text>
<rect x="635.70" y="1167.40" width="72.10" height="20.80" fill="#e6e6e6" stroke="#808080" stroke-width="3.6"/>
<line x1="633.40" y1="1217.80" x2="709.40" y2="1217.80" stroke="#000" stroke-width="7.4"/>
<text x="729.2" y="1189" font-size="32">unstimulated</text>
<text x="727.6" y="1225.2" font-size="31.8">+ IFNβ (1000U)</text>
<!-- panel e -->
<text x="5.8" y="938.7" font-size="57.5" font-weight="bold" fill="#222" stroke="#222">e</text>
<line x1="210.80" y1="957.10" x2="210.80" y2="1204.80" stroke="#0d0d0d" stroke-width="2.4"/>
<line x1="205.20" y1="1203.60" x2="357.50" y2="1203.60" stroke="#0d0d0d" stroke-width="2.4"/>
<line x1="205.20" y1="958.30" x2="210.80" y2="958.30" stroke="#0d0d0d" stroke-width="2.4"/>
<text x="204.8" y="969.7" font-size="31.4" text-anchor="end">1000</text>
<line x1="205.20" y1="1007.36" x2="210.80" y2="1007.36" stroke="#0d0d0d" stroke-width="2.4"/>
<text x="204.8" y="1019.1" font-size="31.4" text-anchor="end">800</text>
<line x1="205.20" y1="1056.42" x2="210.80" y2="1056.42" stroke="#0d0d0d" stroke-width="2.4"/>
<text x="204.8" y="1068.5" font-size="31.4" text-anchor="end">600</text>
<line x1="205.20" y1="1105.48" x2="210.80" y2="1105.48" stroke="#0d0d0d" stroke-width="2.4"/>
<text x="204.8" y="1117.9" font-size="31.4" text-anchor="end">400</text>
<line x1="205.20" y1="1154.54" x2="210.80" y2="1154.54" stroke="#0d0d0d" stroke-width="2.4"/>
<text x="204.8" y="1167.3" font-size="31.4" text-anchor="end">200</text>
<text x="204.8" y="1216.7" font-size="31.4" text-anchor="end">0</text>
<line x1="228.80" y1="1203.60" x2="228.80" y2="1209.10" stroke="#0d0d0d" stroke-width="2.4"/>
<line x1="265.40" y1="1203.60" x2="265.40" y2="1209.10" stroke="#0d0d0d" stroke-width="2.4"/>
<line x1="302.40" y1="1203.60" x2="302.40" y2="1209.10" stroke="#0d0d0d" stroke-width="2.4"/>
<line x1="338.80" y1="1203.60" x2="338.80" y2="1209.10" stroke="#0d0d0d" stroke-width="2.4"/>
<line x1="228.80" y1="1037.50" x2="228.80" y2="1049.00" stroke="#0d0d0d" stroke-width="2.45"/>
<line x1="222.05" y1="1037.50" x2="235.55" y2="1037.50" stroke="#0d0d0d" stroke-width="2.45"/>
<rect x="216.70" y="1049.50" width="24.30" height="154.10" fill="#fff" stroke="#000" stroke-width="2"/>
<line x1="265.40" y1="1067.50" x2="265.40" y2="1069.00" stroke="#0d0d0d" stroke-width="2.45"/>
<line x1="258.65" y1="1067.50" x2="272.15" y2="1067.50" stroke="#0d0d0d" stroke-width="2.45"/>
<rect x="252.20" y="1068.50" width="26.40" height="135.10" fill="#000"/>
<line x1="302.40" y1="1073.50" x2="302.40" y2="1076.50" stroke="#0d0d0d" stroke-width="2.45"/>
<line x1="295.65" y1="1073.50" x2="309.15" y2="1073.50" stroke="#0d0d0d" stroke-width="2.45"/>
<rect x="290.30" y="1077.00" width="24.30" height="126.60" fill="#fff" stroke="#000" stroke-width="2"/>
<line x1="338.80" y1="1005.00" x2="338.80" y2="1015.00" stroke="#0d0d0d" stroke-width="2.45"/>
<line x1="332.05" y1="1005.00" x2="345.55" y2="1005.00" stroke="#0d0d0d" stroke-width="2.45"/>
<rect x="325.60" y="1014.50" width="26.40" height="189.10" fill="#000"/>
<line x1="265.00" y1="957.50" x2="340.00" y2="957.50" stroke="#0d0d0d" stroke-width="2.2"/>
<text x="303.7" y="959.9" font-size="32" text-anchor="middle" letter-spacing="2">***</text>
<text x="136.8" y="1246.5" font-size="30.5">IFNβ</text>
<line x1="238.95" y1="1238.00" x2="256.45" y2="1238.00" stroke="#0d0d0d" stroke-width="2.1"/>
<line x1="313.50" y1="1239.30" x2="329.10" y2="1239.30" stroke="#0d0d0d" stroke-width="2.3"/>
<line x1="321.30" y1="1231.50" x2="321.30" y2="1247.10" stroke="#0d0d0d" stroke-width="2.3"/>
<rect x="386.00" y="1062.20" width="22.20" height="16.80" fill="#fff" stroke="#000" stroke-width="2"/>
<rect x="385.00" y="1094.90" width="24.20" height="19.20" fill="#000"/>
<text x="421" y="1080.2" font-size="31.2">isotype</text>
<text x="422.5" y="1114.3" font-size="30.8">ARTC2.1</text>
<text x="112" y="1070.2" font-size="32" text-anchor="middle" transform="rotate(-90 112 1070.2)">ARTC2.1 [MFI]</text>
</svg>
</body>
</html>
